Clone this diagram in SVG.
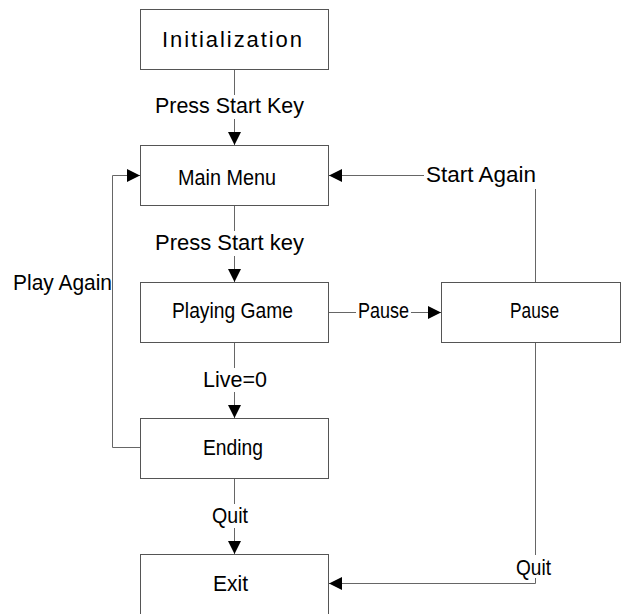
<svg xmlns="http://www.w3.org/2000/svg" width="622" height="614" viewBox="0 0 622 614">
<style>
.box{fill:#fff;stroke:#555;stroke-width:1}
.ln{fill:none;stroke:#666;stroke-width:1}
.t{font-family:"Liberation Sans",Arial,sans-serif;font-size:22px;fill:#000}
.bg{fill:#fff}
</style>
<defs>
<marker id="ah" markerUnits="userSpaceOnUse" markerWidth="13" markerHeight="13" refX="13" refY="6.5" orient="auto">
<path d="M0,0 L13,6.5 L0,13 Z" fill="#000"/>
</marker>
</defs>
<rect width="622" height="614" fill="#fff"/>
<g id="connectors">
<path class="ln" d="M234.5 69 V145" marker-end="url(#ah)"/>
<path class="ln" d="M234.5 205 V282" marker-end="url(#ah)"/>
<path class="ln" d="M234.5 342 V418" marker-end="url(#ah)"/>
<path class="ln" d="M234.5 479 V554" marker-end="url(#ah)"/>
<path class="ln" d="M329 312.5 H441" marker-end="url(#ah)"/>
<path class="ln" d="M535.5 282 V175.5 H329" marker-end="url(#ah)"/>
<path class="ln" d="M140 447.5 H112.5 V175.5 H140" marker-end="url(#ah)"/>
<path class="ln" d="M535.5 342 V583.5 H329" marker-end="url(#ah)"/>
<rect class="bg" x="152" y="95" width="156" height="24"/>
<text class="t" x="155" y="113" textLength="149" lengthAdjust="spacingAndGlyphs">Press Start Key</text>
<rect class="bg" x="152" y="231" width="156" height="25"/>
<text class="t" x="155" y="250" textLength="149" lengthAdjust="spacingAndGlyphs">Press Start key</text>
<rect class="bg" x="200" y="368" width="70" height="24"/>
<text class="t" x="203" y="387" textLength="64" lengthAdjust="spacingAndGlyphs">Live=0</text>
<rect class="bg" x="209" y="504" width="42" height="24"/>
<text class="t" x="212" y="523" textLength="36" lengthAdjust="spacingAndGlyphs">Quit</text>
<rect class="bg" x="356" y="300" width="55" height="24"/>
<text class="t" x="358" y="318" textLength="51" lengthAdjust="spacingAndGlyphs">Pause</text>
<rect class="bg" x="424" y="163" width="114" height="26"/>
<text class="t" x="426" y="182" textLength="110" lengthAdjust="spacingAndGlyphs">Start Again</text>
<rect class="bg" x="8" y="268" width="104" height="29"/>
<text class="t" x="13" y="290" textLength="99" lengthAdjust="spacingAndGlyphs">Play Again</text>
<rect class="bg" x="514" y="555" width="40" height="23"/>
<text class="t" x="516" y="575" textLength="35" lengthAdjust="spacingAndGlyphs">Quit</text>
</g>
<g id="init">
<rect class="box" x="140.5" y="9.5" width="188" height="60"/>
<text class="t" x="162" y="47" textLength="140" lengthAdjust="spacing">Initialization</text>
</g>
<g id="mainmenu">
<rect class="box" x="140.5" y="145.5" width="188" height="60"/>
<text class="t" x="178" y="185" textLength="98" lengthAdjust="spacingAndGlyphs">Main Menu</text>
</g>
<g id="playing">
<rect class="box" x="140.5" y="282.5" width="188" height="60"/>
<text class="t" x="172" y="318" textLength="121" lengthAdjust="spacingAndGlyphs">Playing Game</text>
</g>
<g id="pause">
<rect class="box" x="441.5" y="282.5" width="179" height="60"/>
<text class="t" x="510" y="318" textLength="49" lengthAdjust="spacingAndGlyphs">Pause</text>
</g>
<g id="ending">
<rect class="box" x="140.5" y="418.5" width="188" height="60"/>
<text class="t" x="203" y="455" textLength="60" lengthAdjust="spacingAndGlyphs">Ending</text>
</g>
<g id="exit">
<rect class="box" x="140.5" y="554.5" width="188" height="70"/>
<text class="t" x="213" y="591" textLength="35" lengthAdjust="spacingAndGlyphs">Exit</text>
</g>
</svg>
